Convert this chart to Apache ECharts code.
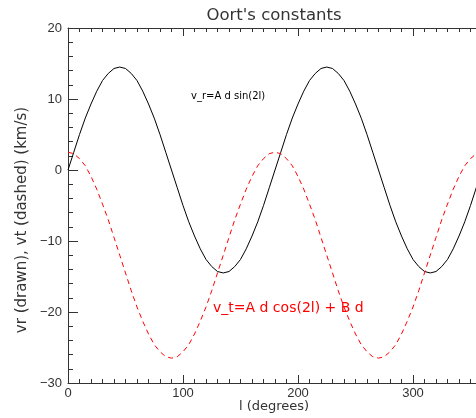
<!DOCTYPE html>
<html>
<head>
<meta charset="utf-8">
<script src="https://cdn.jsdelivr.net/npm/echarts@6/dist/echarts.min.js"></script>
<style>
html,body{margin:0;padding:0;background:#fff;overflow:hidden;width:476px;height:418px;}
#c{width:490px;height:418px;}
</style>
</head>
<body>
<div id="c"></div>
<script>
// longitude l (degrees)
var lDeg = [0,5,10,15,20,25,30,35,40,45,50,55,60,65,70,75,80,85,90,95,100,105,110,115,120,125,130,135,140,145,150,155,160,165,170,175,180,
            185,190,195,200,205,210,215,220,225,230,235,240,245,250,255,260,265,270,275,280,285,290,295,300,305,310,315,320,325,330,335,340,345,350,355,360];
// v_r (solid, black)
var vr = [0,2.5,5.0,7.3,9.3,11.1,12.6,13.6,14.3,14.5,14.3,13.6,12.6,11.1,9.3,7.3,5.0,2.5,
          0,-2.5,-5.0,-7.3,-9.3,-11.1,-12.6,-13.6,-14.3,-14.5,-14.3,-13.6,-12.6,-11.1,-9.3,-7.3,-5.0,-2.5,
          0,2.5,5.0,7.3,9.3,11.1,12.6,13.6,14.3,14.5,14.3,13.6,12.6,11.1,9.3,7.3,5.0,2.5,
          0,-2.5,-5.0,-7.3,-9.3,-11.1,-12.6,-13.6,-14.3,-14.5,-14.3,-13.6,-12.6,-11.1,-9.3,-7.3,-5.0,-2.5,0];
// v_t (dashed, red)
var vt = [2.5,2.3,1.6,0.6,-0.9,-2.7,-4.8,-7.0,-9.5,-12.0,-14.5,-17.0,-19.3,-21.3,-23.1,-24.6,-25.6,-26.3,
          -26.5,-26.3,-25.6,-24.6,-23.1,-21.3,-19.3,-17.0,-14.5,-12.0,-9.5,-7.0,-4.8,-2.7,-0.9,0.6,1.6,2.3,
          2.5,2.3,1.6,0.6,-0.9,-2.7,-4.8,-7.0,-9.5,-12.0,-14.5,-17.0,-19.3,-21.3,-23.1,-24.6,-25.6,-26.3,
          -26.5,-26.3,-25.6,-24.6,-23.1,-21.3,-19.3,-17.0,-14.5,-12.0,-9.5,-7.0,-4.8,-2.7,-0.9,0.6,1.6,2.3,2.5];
var xTicks = [0,100,200,300];
var yTicks = [-30,-20,-10,0,10,20];
var titleText = "Oort's constants";
var xName = "l (degrees)";
var yName = "vr (drawn), vt (dashed) (km/s)";
var noteR = "v_r=A d sin(2l)";
var noteT = "v_t=A d cos(2l) + B d";

var FONT = 'Liberation Sans';
var FONT2 = 'DejaVu Sans';
var AX = '#333';
var chart = echarts.init(document.getElementById('c'), null, {renderer:'canvas'});
function xAx(pos, interval, len, labels, line){
  return {type:'value', position:pos, min:0, max:360, interval:interval,
    axisLine:{show:line, onZero:false, lineStyle:{color:AX,width:1}},
    axisTick:{show:true, inside:true, length:len, lineStyle:{color:AX,width:1}},
    axisLabel:{show:labels, margin:4, color:'#333', fontFamily:FONT, fontSize:13,
      formatter:function(v){return xTicks.indexOf(v)>=0 ? String(v) : '';}},
    splitLine:{show:false}};
}
chart.setOption({
  animation:false,
  backgroundColor:'#fff',
  grid:{left:68, top:28, width:414, bottom:35, containLabel:false},
  xAxis:[xAx('bottom',100,8,true,true), xAx('bottom',10,4,false,false),
         xAx('top',100,8,false,true), xAx('top',10,4,false,false)],
  yAxis:[{type:'value', min:-30, max:20, interval:10,
    axisLine:{show:true, onZero:false, lineStyle:{color:AX,width:1}},
    axisTick:{show:true, inside:true, length:10, lineStyle:{color:AX}},
    minorTick:{show:true, splitNumber:5, length:5, lineStyle:{color:AX}},
    axisLabel:{margin:6, color:'#333', fontFamily:FONT, fontSize:13,
      formatter:function(v){return yTicks.indexOf(v)>=0 ? String(v).replace('-','\u2212') : '';}},
    splitLine:{show:false}}],
  graphic:[
    {type:'text', x:274, y:16, style:{text:titleText, font:'16.5px '+FONT2, fill:'#333', textAlign:'center', textVerticalAlign:'middle'}},
    {type:'text', x:274, y:407, style:{text:xName, font:'13px '+FONT2, fill:'#333', textAlign:'center', textVerticalAlign:'middle'}},
    {type:'text', x:22, y:220, rotation:Math.PI/2, style:{text:yName, font:'15px '+FONT2, fill:'#333', textAlign:'center', textVerticalAlign:'middle'}},
    {type:'text', x:191, y:96, style:{text:noteR, font:'10px '+FONT2, fill:'#000', textAlign:'left', textVerticalAlign:'middle'}},
    {type:'text', x:213, y:308, style:{text:noteT, font:'14px '+FONT2, fill:'#f00', textAlign:'left', textVerticalAlign:'middle'}}
  ],
  series:[
    {type:'line', xAxisIndex:0, yAxisIndex:0, showSymbol:false, smooth:false,
     data:lDeg.map(function(l,i){return [l, vr[i]];}),
     lineStyle:{color:'#000', width:1}},
    {type:'line', xAxisIndex:0, yAxisIndex:0, showSymbol:false, smooth:false,
     data:lDeg.map(function(l,i){return [l, vt[i]];}),
     lineStyle:{color:'#f00', width:1, type:[5,4]}}
  ]
});
</script>
</body>
</html>
